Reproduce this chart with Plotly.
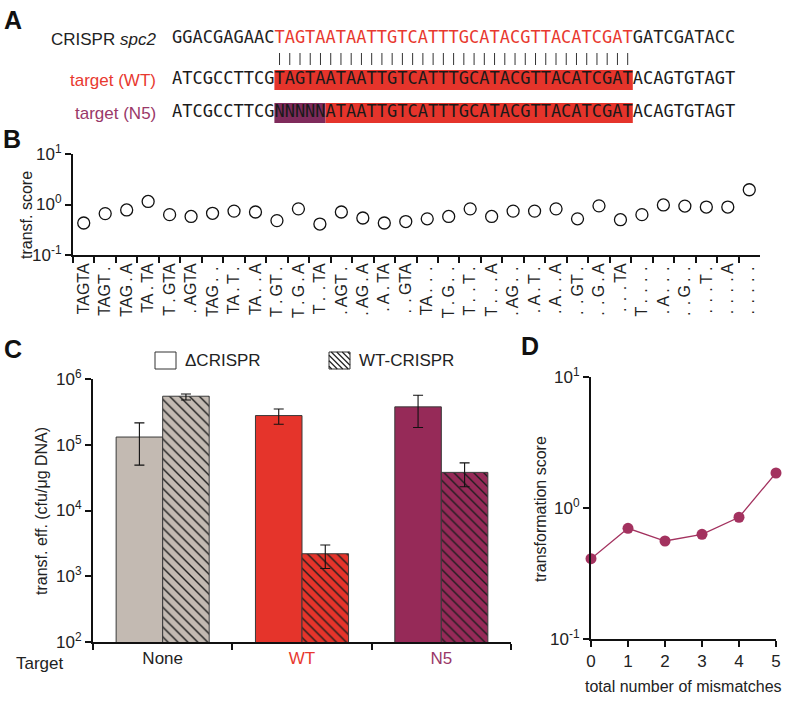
import plotly.graph_objects as go

W, H = 800, 721

# ---------------- data ----------------
# Panel A sequences
crispr_left = "GGACGAGAAC"
spacer = "TAGTAATAATTGTCATTTGCATACGTTACATCGAT"
crispr_right = "GATCGATACC"
target_left = "ATCGCCTTCG"
target_right = "ACAGTGTAGT"
n5_mask = "NNNNN"
row_labels = ["CRISPR <i>spc2</i>", "target (WT)", "target (N5)"]

# Panel B
patterns = ["TAGTA", "TAGT.", "TAG.A", "TA.TA", "T.GTA", ".AGTA", "TAG..", "TA.T.",
            "TA..A", "T.GT.", "T.G.A", "T..TA", ".AGT.", ".AG.A", ".A.TA", "..GTA",
            "TA...", "T.G..", "T..T.", "T...A", ".AG..", ".A.T.", ".A..A", "..GT.",
            "..G.A", "...TA", "T....", ".A...", "..G..", "...T.", "....A", "....."]
scores = [0.43, 0.66, 0.78, 1.15, 0.63, 0.58, 0.67, 0.74,
          0.71, 0.48, 0.82, 0.41, 0.71, 0.54, 0.43, 0.46,
          0.52, 0.58, 0.82, 0.58, 0.74, 0.74, 0.82, 0.52,
          0.94, 0.50, 0.63, 0.98, 0.93, 0.89, 0.89, 1.96]

# Panel C
targets = ["None", "WT", "N5"]
eff_dcrispr = [1.31e5, 2.78e5, 3.77e5]
eff_dcrispr_hi = [2.15e5, 3.5e5, 5.66e5]
eff_dcrispr_lo = [4.9e4, 2.05e5, 1.83e5]
eff_wtcrispr = [5.47e5, 2.2e3, 3.8e4]
eff_wtcrispr_hi = [5.9e5, 2.98e3, 5.3e4]
eff_wtcrispr_lo = [4.8e5, 1.31e3, 2.3e4]
series_names = ["\u0394CRISPR", "WT-CRISPR"]

# Panel D
mismatches = [0, 1, 2, 3, 4, 5]
mean_score = [0.41, 0.70, 0.56, 0.63, 0.85, 1.85]

# ---------------- style ----------------
RED = "#e5342b"
RED_TXT = "#e8392f"
PURPLE_HL = "#7f2a5b"
PURPLE = "#962a58"
PURPLE_TXT = "#9a3868"
GRAY = "#c3bab2"
FONT = "Liberation Sans, Arial, sans-serif"
SEQFONT = "DejaVu Sans Mono, monospace"


def fx(p):
    return p / W


def fy(p):
    return 1 - p / H


fig = go.Figure()

# ---------------- Panel A ----------------
CW = 10.24      # px per character
X0 = 172        # px of first character left edge
A_ROWS = {"crispr": 39, "bars": (53, 65), "wt": 80, "wt_hl": (70, 90), "n5": 113, "n5_hl": (103, 123)}

crispr_seq = crispr_left + spacer + crispr_right
wt_seq = target_left + spacer + target_right
n5_seq = target_left + n5_mask + spacer[len(n5_mask):] + target_right

crispr_colors = (["#222"] * len(crispr_left) + [RED_TXT] * len(spacer) + ["#222"] * len(crispr_right))

for seq, row, colors in [(crispr_seq, A_ROWS["crispr"], crispr_colors),
                         (wt_seq, A_ROWS["wt"], ["#1a1a1a"] * len(wt_seq)),
                         (n5_seq, A_ROWS["n5"], ["#1a1a1a"] * len(n5_seq))]:
    fig.add_trace(go.Scatter(
        x=[i + 0.5 for i in range(len(seq))], y=[row] * len(seq), text=list(seq),
        mode="text", textposition="middle center",
        textfont=dict(family=SEQFONT, size=17, color=colors),
        xaxis="x", yaxis="y", showlegend=False, hoverinfo="skip"))

# pairing bars
bx, by = [], []
for i in range(len(spacer)):
    xi = len(crispr_left) + i + 0.5
    bx += [xi, xi, None]
    by += [A_ROWS["bars"][0], A_ROWS["bars"][1], None]
fig.add_trace(go.Scatter(x=bx, y=by, mode="lines", line=dict(color="#333", width=1),
                         xaxis="x", yaxis="y", showlegend=False, hoverinfo="skip"))

s0 = len(target_left)
s1 = s0 + len(spacer)
m1 = s0 + len(n5_mask)
fig.add_shape(type="rect", xref="x", yref="y", x0=s0, x1=s1, y0=A_ROWS["wt_hl"][0], y1=A_ROWS["wt_hl"][1],
              fillcolor=RED, line_width=0, layer="below")
fig.add_shape(type="rect", xref="x", yref="y", x0=s0, x1=m1, y0=A_ROWS["n5_hl"][0], y1=A_ROWS["n5_hl"][1],
              fillcolor=PURPLE_HL, line_width=0, layer="below")
fig.add_shape(type="rect", xref="x", yref="y", x0=m1, x1=s1, y0=A_ROWS["n5_hl"][0], y1=A_ROWS["n5_hl"][1],
              fillcolor=RED, line_width=0, layer="below")

label_x = (158 - X0) / CW
for lab, row, col in zip(row_labels, [A_ROWS["crispr"], A_ROWS["wt"], A_ROWS["n5"]], ["#222", RED_TXT, PURPLE_TXT]):
    fig.add_annotation(x=label_x, y=row, xref="x", yref="y", text=lab, showarrow=False,
                       xanchor="right", yanchor="middle", font=dict(family=FONT, size=17, color=col))

# ---------------- Panel B ----------------
def pad(p):
    return "".join("\u2009.\u2009" if c == "." else c for c in p)

fig.add_trace(go.Scatter(
    x=patterns, y=scores, mode="markers",
    marker=dict(symbol="circle-open", size=12, color="#111", line=dict(width=1.3)),
    xaxis="x2", yaxis="y2", showlegend=False))

# ---------------- Panel C ----------------
bar_colors = [GRAY, RED, PURPLE]
for i, tgt in enumerate(targets):
    fig.add_trace(go.Bar(
        x=[tgt], y=[eff_dcrispr[i]], name=series_names[0], offsetgroup="d",
        marker=dict(color=bar_colors[i], line=dict(color="#3a3a3a", width=1)),
        error_y=dict(type="data", symmetric=False,
                     array=[eff_dcrispr_hi[i] - eff_dcrispr[i]],
                     arrayminus=[eff_dcrispr[i] - eff_dcrispr_lo[i]],
                     color="#111", thickness=1.1, width=5),
        xaxis="x3", yaxis="y3", showlegend=False))
    fig.add_trace(go.Bar(
        x=[tgt], y=[eff_wtcrispr[i]], name=series_names[1], offsetgroup="w",
        marker=dict(color=bar_colors[i], line=dict(color="#3a3a3a", width=1),
                    pattern=dict(shape="\\", fgcolor="#1e1e1e", bgcolor=bar_colors[i], size=7,
                                 solidity=0.2, fillmode="replace")),
        error_y=dict(type="data", symmetric=False,
                     array=[eff_wtcrispr_hi[i] - eff_wtcrispr[i]],
                     arrayminus=[eff_wtcrispr[i] - eff_wtcrispr_lo[i]],
                     color="#111", thickness=1.1, width=5),
        xaxis="x3", yaxis="y3", showlegend=False))

# legend (drawn)
lg_boxes = [(155, 352, 176, 369), (329, 352, 350, 369)]
for (x0, y0, x1, y1) in lg_boxes:
    fig.add_shape(type="rect", xref="paper", yref="paper", x0=fx(x0), x1=fx(x1), y0=fy(y1), y1=fy(y0),
                  fillcolor="white", line=dict(color="#333", width=1))
# hatch lines in second legend box
x0, y0, x1, y1 = lg_boxes[1]
w, h = x1 - x0, y1 - y0
step = 5.5
k = -h + step / 2
path = ""
while k < w:
    if k >= 0:
        sx, sy = x0 + k, y0
    else:
        sx, sy = x0, y0 - k
    if k + h <= w:
        ex, ey = x0 + k + h, y1
    else:
        ex, ey = x1, y0 + (w - k)
    path += f"M{fx(sx)},{fy(sy)}L{fx(ex)},{fy(ey)}"
    k += step
fig.add_shape(type="path", xref="paper", yref="paper", path=path, line=dict(color="#222", width=1.2))
for (bx0, by0, bx1, by1), name in zip(lg_boxes, series_names):
    fig.add_annotation(x=fx(bx1 + 7), y=fy((by0 + by1) / 2), xref="paper", yref="paper", text=name,
                       showarrow=False, xanchor="left", yanchor="middle",
                       font=dict(family=FONT, size=17, color="#222"))

# ---------------- Panel D ----------------
fig.add_trace(go.Scatter(
    x=mismatches, y=mean_score, mode="lines+markers",
    line=dict(color="#a3325f", width=1.3),
    marker=dict(size=11, color="#a3325f"),
    cliponaxis=False, xaxis="x4", yaxis="y4", showlegend=False))

# ---------------- axes ----------------
axis_common = dict(showline=True, linecolor="#111", linewidth=2, ticks="outside", ticklen=6,
                   tickwidth=2, tickcolor="#111", showgrid=False, zeroline=False, automargin=False,
                   tickfont=dict(family=FONT, size=17, color="#222"))

log_labels = {v: f"10<sup>{e}</sup>" for v, e in [(0.1, -1), (1, 0), (10, 1), (1e2, 2), (1e3, 3),
                                                  (1e4, 4), (1e5, 5), (1e6, 6)]}

fig.update_layout(
    width=W, height=H, margin=dict(l=0, r=0, t=0, b=0, pad=0, autoexpand=False),
    paper_bgcolor="white", plot_bgcolor="rgba(0,0,0,0)",
    font=dict(family=FONT, color="#222"),
    barmode="group", bargap=0.332, bargroupgap=0,
    xaxis=dict(domain=[0, 1], range=[-X0 / CW, (W - X0) / CW], visible=False, fixedrange=True,
               automargin=False),
    yaxis=dict(domain=[fy(130), 1], range=[130, 0], visible=False, fixedrange=True, automargin=False),
    xaxis2=dict(domain=[fx(73), fx(760)], range=[-0.5, len(patterns) - 0.5], type="category",
                anchor="y2", tickson="boundaries", tickangle=-90, tickmode="array",
                tickvals=patterns, ticktext=[pad(p) for p in patterns],
                **{**axis_common, "tickfont": dict(family=FONT, size=16, color="#222")}),
    yaxis2=dict(domain=[fy(255), fy(154)], type="log", range=[-1, 1], anchor="x2",
                tickvals=[0.1, 1, 10], ticktext=[log_labels[v] for v in [0.1, 1, 10]], **axis_common),
    xaxis3=dict(domain=[fx(93), fx(511)], range=[-0.5, 2.5], type="category", anchor="y3",
                tickson="boundaries", tickmode="array", tickvals=targets,
                ticktext=["None", f"<span style='color:{RED_TXT}'>WT</span>",
                          f"<span style='color:{PURPLE_TXT}'>N5</span>"], **axis_common),
    yaxis3=dict(domain=[fy(642), fy(379)], type="log", range=[2, 6], anchor="x3",
                tickvals=[1e2, 1e3, 1e4, 1e5, 1e6], ticktext=[log_labels[v] for v in [1e2, 1e3, 1e4, 1e5, 1e6]],
                **axis_common),
    xaxis4=dict(domain=[fx(591), fx(776)], range=[0, 5], anchor="y4", tickvals=mismatches, **axis_common),
    yaxis4=dict(domain=[fy(639), fy(377)], type="log", range=[-1, 1], anchor="x4",
                tickvals=[0.1, 1, 10], ticktext=[log_labels[v] for v in [0.1, 1, 10]], **axis_common),
)

# axis titles & other text
texts = [
    dict(x=fx(27), y=fy(215), text="transf. score", textangle=-90, size=16),
    dict(x=fx(41), y=fy(511), text="transf. eff. (cfu/\u03bcg DNA)", textangle=-90, size=16),
    dict(x=fx(540), y=fy(509), text="transformation score", textangle=-90, size=16),
    dict(x=fx(683), y=fy(686), text="total number of mismatches", textangle=0, size=16),
    dict(x=fx(40), y=fy(663), text="Target", textangle=0, size=17),
]
for t in texts:
    fig.add_annotation(x=t["x"], y=t["y"], xref="paper", yref="paper", text=t["text"], showarrow=False,
                       textangle=t["textangle"], xanchor="center", yanchor="middle",
                       font=dict(family=FONT, size=t["size"], color="#222"))

for lab, px, py in [("A", 2, 4), ("B", 1, 123), ("C", 2, 333), ("D", 519, 330)]:
    fig.add_annotation(x=fx(px), y=fy(py), xref="paper", yref="paper", text=f"<b>{lab}</b>",
                       showarrow=False, xanchor="left", yanchor="top",
                       font=dict(family=FONT, size=25, color="#111"))

fig.write_html("out.html", config={"displayModeBar": False},
               post_script="document.body.style.margin='0';")
